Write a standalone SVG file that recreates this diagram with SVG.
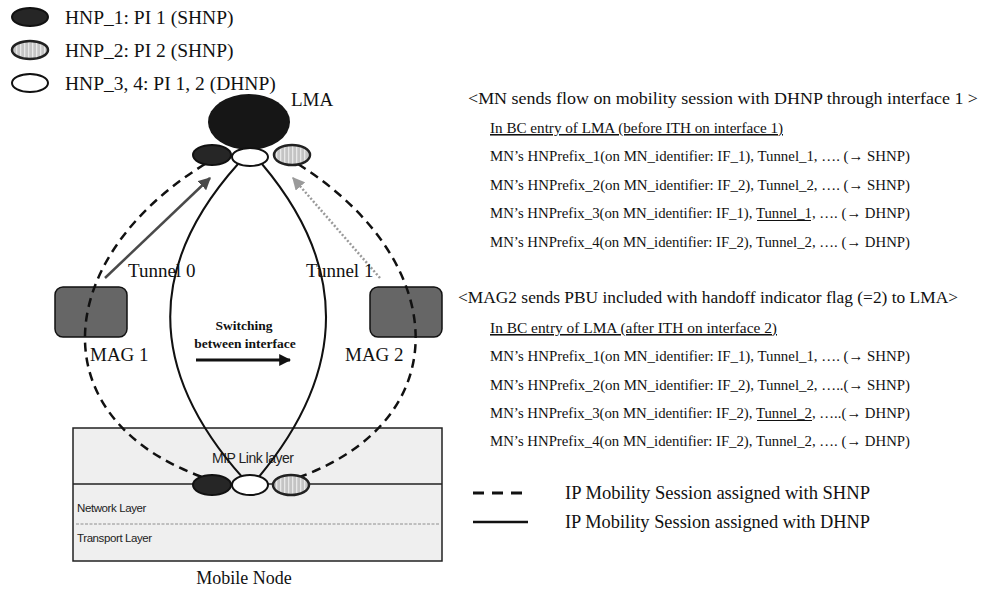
<svg xmlns="http://www.w3.org/2000/svg" width="994" height="591" viewBox="0 0 994 591">
<style>
.t{font-family:"Liberation Serif","Times New Roman",serif;fill:#111}
.s{font-family:"Liberation Sans",Arial,sans-serif;fill:#222}
.shnp{fill:none;stroke:#111;stroke-width:2.5;stroke-dasharray:9 6}
.dhnp{fill:none;stroke:#111;stroke-width:2}
.pi1{fill:#262626;stroke:#111;stroke-width:2}
.pi2{fill:url(#hatch);stroke:#222;stroke-width:2.5}
.pi3{fill:#fff;stroke:#111;stroke-width:2}
.mag{fill:#666;stroke:#111;stroke-width:1.5}
.u{text-decoration:underline}
.ul{stroke:#111;stroke-width:1}
.bc{font-size:15.5px}
</style>
<defs>
<pattern id="hatch" width="4" height="4" patternUnits="userSpaceOnUse">
<rect width="4" height="4" fill="#c4c4c4"/>
<rect x="0" width="1.3" height="4" fill="#e8e8e8"/>
</pattern>
<marker id="ah-dark" viewBox="0 0 10 10" refX="9" refY="5" markerWidth="5" markerHeight="5" orient="auto" markerUnits="strokeWidth">
<path d="M0,0 L10,5 L0,10 z" fill="#4a4a4a"/>
</marker>
<marker id="ah-gray" viewBox="0 0 10 10" refX="9" refY="5" markerWidth="5" markerHeight="5" orient="auto" markerUnits="strokeWidth">
<path d="M0,0 L10,5 L0,10 z" fill="#9a9a9a"/>
</marker>
<marker id="ah-black" viewBox="0 0 10 10" refX="9" refY="5" markerWidth="4" markerHeight="4" orient="auto" markerUnits="strokeWidth">
<path d="M0,0 L10,5 L0,10 z" fill="#111"/>
</marker>
</defs>
<rect width="994" height="591" fill="#fff"/>

<g id="legend-prefix">
<ellipse class="pi1" cx="30" cy="17" rx="18" ry="9"/>
<text class="t" x="65" y="24" font-size="19.5">HNP_1: PI 1 (SHNP)</text>
<ellipse class="pi2" cx="30" cy="50" rx="18" ry="9"/>
<text class="t" x="65" y="57" font-size="19.5">HNP_2: PI 2 (SHNP)</text>
<ellipse class="pi3" cx="30" cy="83" rx="18" ry="9"/>
<text class="t" x="65" y="90" font-size="19.5">HNP_3, 4: PI 1, 2 (DHNP)</text>
</g>

<g id="mobile-node">
<rect x="73" y="428" width="369" height="133" fill="#efefef" stroke="#222" stroke-width="1.5"/>
<line x1="73" y1="484" x2="442" y2="484" stroke="#222" stroke-width="1.5"/>
<line x1="76" y1="524" x2="440" y2="524" stroke="#777" stroke-width="0.8" stroke-dasharray="3 1.5"/>
<text class="s" x="212" y="463" font-size="14" letter-spacing="-0.5">MIP Link layer</text>
<text class="s" x="77" y="512" font-size="11.5" letter-spacing="-0.4">Network Layer</text>
<text class="s" x="77" y="542" font-size="11.5" letter-spacing="-0.4">Transport Layer</text>
<text class="t" x="244" y="584" font-size="18" text-anchor="middle">Mobile Node</text>
</g>

<g id="mag1">
<rect class="mag" x="55" y="287" width="72" height="50" rx="8"/>
<text class="t" x="90" y="361" font-size="19">MAG 1</text>
</g>
<g id="mag2">
<rect class="mag" x="370" y="287" width="72" height="50" rx="8"/>
<text class="t" x="345" y="361" font-size="19">MAG 2</text>
</g>

<g id="connectors">
<path class="shnp" d="M205,164 C50,260 40,420 205,478"/>
<path class="shnp" d="M298,164 C450,260 460,420 297,478"/>
<path class="dhnp" d="M238,164 Q100,318 243,478"/>
<path class="dhnp" d="M262,164 Q392,318 258,478"/>
<line x1="105" y1="278" x2="210" y2="178" stroke="#4a4a4a" stroke-width="2.5" marker-end="url(#ah-dark)"/>
<line x1="380" y1="278" x2="293" y2="178" stroke="#9a9a9a" stroke-width="2.5" stroke-dasharray="2 2" marker-end="url(#ah-gray)"/>
<line x1="196" y1="360" x2="290" y2="360" stroke="#111" stroke-width="3" marker-end="url(#ah-black)"/>
</g>

<g id="lma">
<ellipse cx="249" cy="122" rx="41" ry="28" fill="#161616"/>
<ellipse class="pi1" cx="212" cy="155" rx="19" ry="10"/>
<ellipse class="pi2" cx="292" cy="155" rx="18" ry="10"/>
<ellipse class="pi3" cx="250" cy="157" rx="18" ry="9"/>
<text class="t" x="291" y="106" font-size="19">LMA</text>
</g>

<g id="mn-prefixes">
<ellipse class="pi1" cx="212" cy="485" rx="19" ry="10"/>
<ellipse class="pi3" cx="250" cy="485" rx="18" ry="10"/>
<ellipse class="pi2" cx="291" cy="485" rx="18" ry="10"/>
</g>

<g id="labels">
<text class="t" x="128" y="277" font-size="19">Tunnel 0</text>
<text class="t" x="306" y="277" font-size="19">Tunnel 1</text>
<text class="t" x="244" y="330" font-size="13.5" font-weight="bold" text-anchor="middle">Switching</text>
<text class="t" x="245" y="348" font-size="13.5" font-weight="bold" text-anchor="middle">between interface</text>
</g>

<g id="bc-before">
<text class="t" x="468" y="104" font-size="17.5" textLength="510" lengthAdjust="spacingAndGlyphs">&lt;MN sends flow on mobility session with DHNP through interface 1 &gt;</text>
<text class="t u bc" x="490" y="133" textLength="293" lengthAdjust="spacingAndGlyphs">In BC entry of LMA (before ITH on interface 1)</text>
<text class="t bc" x="490" y="161" textLength="420" lengthAdjust="spacingAndGlyphs">MN’s HNPrefix_1(on MN_identifier: IF_1),  Tunnel_1, …. (→ SHNP)</text>
<text class="t bc" x="490" y="190" textLength="420" lengthAdjust="spacingAndGlyphs">MN’s HNPrefix_2(on MN_identifier: IF_2),  Tunnel_2, …. (→ SHNP)</text>
<text class="t bc" x="490" y="218" textLength="420" lengthAdjust="spacingAndGlyphs">MN’s HNPrefix_3(on MN_identifier: IF_1),  Tunnel_1, …. (→ DHNP)</text>
<line class="ul" x1="757" y1="220.5" x2="811" y2="220.5"/>
<text class="t bc" x="490" y="247" textLength="420" lengthAdjust="spacingAndGlyphs">MN’s HNPrefix_4(on MN_identifier: IF_2),  Tunnel_2, …. (→ DHNP)</text>
</g>

<g id="bc-after">
<text class="t" x="458" y="303" font-size="17.5" textLength="500" lengthAdjust="spacingAndGlyphs">&lt;MAG2 sends PBU included with handoff  indicator flag (=2) to LMA&gt;</text>
<text class="t u bc" x="490" y="333" textLength="287" lengthAdjust="spacingAndGlyphs">In BC entry of LMA (after ITH on interface 2)</text>
<text class="t bc" x="490" y="361" textLength="420" lengthAdjust="spacingAndGlyphs">MN’s HNPrefix_1(on MN_identifier: IF_1),  Tunnel_1, …. (→ SHNP)</text>
<text class="t bc" x="490" y="390" textLength="420" lengthAdjust="spacingAndGlyphs">MN’s HNPrefix_2(on MN_identifier: IF_2),  Tunnel_2, …..(→ SHNP)</text>
<text class="t bc" x="490" y="418" textLength="420" lengthAdjust="spacingAndGlyphs">MN’s HNPrefix_3(on MN_identifier: IF_2),  Tunnel_2, …..(→ DHNP)</text>
<line class="ul" x1="757" y1="420.5" x2="812" y2="420.5"/>
<text class="t bc" x="490" y="446" textLength="420" lengthAdjust="spacingAndGlyphs">MN’s HNPrefix_4(on MN_identifier: IF_2),  Tunnel_2, …. (→ DHNP)</text>
</g>

<g id="legend-session">
<line x1="473" y1="493" x2="528" y2="493" stroke="#111" stroke-width="3" stroke-dasharray="11 8"/>
<text class="t" x="565" y="499" font-size="18" textLength="305" lengthAdjust="spacingAndGlyphs">IP Mobility Session assigned with SHNP</text>
<line x1="473" y1="522" x2="528" y2="522" stroke="#111" stroke-width="2.5"/>
<text class="t" x="565" y="528" font-size="18" textLength="305" lengthAdjust="spacingAndGlyphs">IP Mobility Session assigned with DHNP</text>
</g>
</svg>
